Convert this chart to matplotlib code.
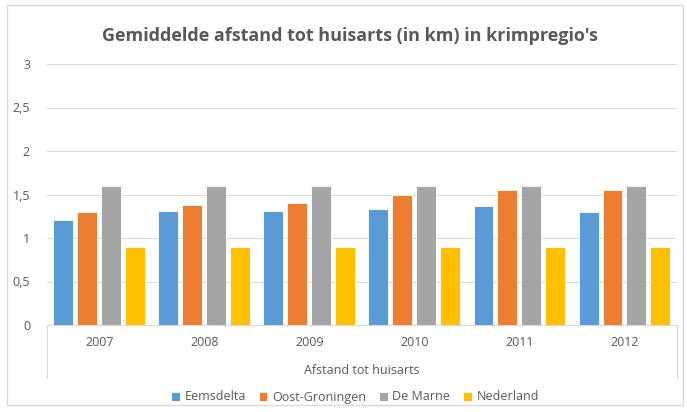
import numpy as np
import matplotlib
matplotlib.use("Agg")
from matplotlib import pyplot as plt
from matplotlib.patches import Rectangle
from matplotlib.lines import Line2D

plt.rcParams['font.family'] = ['Open Sans', 'DejaVu Sans']

#
# Data
#
years = ['2007', '2008', '2009', '2010', '2011', '2012']
series = ['Eemsdelta', 'Oost-Groningen', 'De Marne', 'Nederland']
eemsdelta = [1.21, 1.31, 1.31, 1.33, 1.37, 1.30]
oost_groningen = [1.30, 1.38, 1.40, 1.50, 1.55, 1.55]
de_marne = [1.60, 1.60, 1.60, 1.60, 1.60, 1.60]
nederland = [0.90, 0.90, 0.90, 0.90, 0.90, 0.90]
colors = ['#5b9bd5', '#ed7d31', '#a5a5a5', '#ffc000']
yticks = [0, 0.5, 1, 1.5, 2, 2.5, 3]
ytick_labels = ['0', '0,5', '1', '1,5', '2', '2,5', '3']

txt = '#595959'
fig = plt.figure(figsize=(6.87, 4.12), dpi=100)
fig.patches.append(Rectangle((7/687, 7/412), 676/687, 400/412, transform=fig.transFigure,
                             fill=False, edgecolor='#d9d9d9', linewidth=1))

ax = fig.add_axes([46.7/687, 1-325/412, (677-46.7)/687, 261/412])
x = np.arange(len(years))
width = 0.19
step = 0.228
for i, (vals, c) in enumerate(zip([eemsdelta, oost_groningen, de_marne, nederland], colors)):
    ax.bar(x + (i - 1.5)*step, vals, width, color=c, edgecolor='white', linewidth=0.6,
           label=series[i], zorder=3)

ax.set_xlim(-0.5, len(years) - 0.5)
ax.set_ylim(0, 3)
ax.set_yticks(yticks)
ax.set_yticklabels(ytick_labels, color=txt, fontsize=9)
ax.set_xticks(x)
ax.set_xticklabels(years, color=txt, fontsize=9)
ax.tick_params(axis='both', length=0)
ax.tick_params(axis='x', pad=8)
ax.tick_params(axis='y', pad=12)
ax.grid(axis='y', color='#d9d9d9', linewidth=0.8, zorder=0)
for s in ['top', 'right', 'left']:
    ax.spines[s].set_visible(False)
ax.spines['bottom'].set_color('#d9d9d9')

# multi-level category box
for xp in [46.7/687, 677/687]:
    fig.add_artist(Line2D([xp, xp], [1-325/412, 1-378/412], transform=fig.transFigure,
                          color='#d9d9d9', linewidth=0.8))
fig.text(362/687, 1-370/412, 'Afstand tot huisarts', ha='center', va='center', color=txt, fontsize=9)

fig.text(350/687, 1-36/412, "Gemiddelde afstand tot huisarts (in km) in krimpregio's",
         ha='center', va='center', color=txt, fontsize=13, fontweight='bold')

fig.legend(loc='center', bbox_to_anchor=(355/687, 1-397/412), ncol=4, frameon=False,
           fontsize=9, labelcolor=txt, handlelength=0.7, handleheight=0.7,
           handletextpad=0.4, columnspacing=1.0)

plt.savefig('out.png', dpi=100)
